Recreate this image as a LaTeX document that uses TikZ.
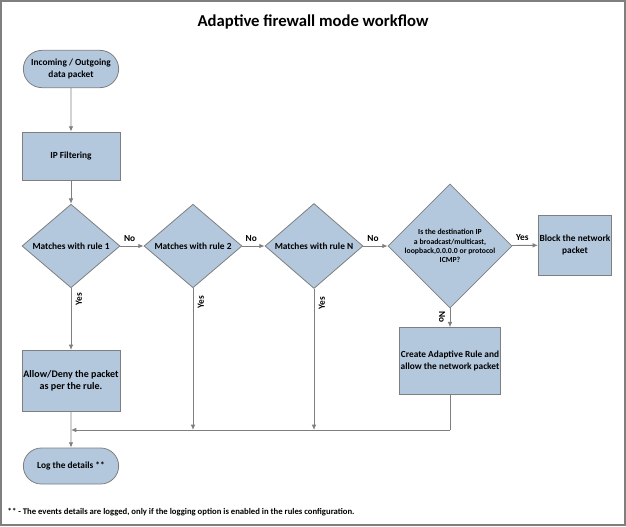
\documentclass[tikz,border=0pt]{standalone}
\usepackage{fontspec}
\setmainfont{Carlito}
\usetikzlibrary{shapes.geometric,shapes.misc,arrows.meta}
\definecolor{fillb}{HTML}{B3C7DD}
\definecolor{edgeg}{HTML}{7F7F7F}
\tikzset{
 base/.style={draw=edgeg,fill=fillb,line width=0.6pt,font=\bfseries\fontsize{7}{8.5}\selectfont,align=center,inner sep=1pt},
 pill/.style={base,rounded rectangle,minimum width=73.5pt,minimum height=28pt},
 conn/.style={draw=edgeg,line width=0.7pt,-{Latex[length=4pt,width=3.5pt]}},
 plain/.style={draw=edgeg,line width=0.7pt},
 lab/.style={font=\bfseries\fontsize{7}{8}\selectfont}
}
\begin{document}
\begin{tikzpicture}[x=0.75pt,y=-0.75pt]
\useasboundingbox (0,0) rectangle (626,526);
\draw[edgeg,line width=1.5pt] (1,1) rectangle (625,525);
\node[font=\bfseries\fontsize{12.5}{14}\selectfont] (title) at (313,22) {Adaptive firewall mode workflow};
\node[pill] (start) at (71,69) {Incoming / Outgoing\\data packet};
\node[base,minimum width=73.5pt,minimum height=36pt] (ipf) at (71,156) {IP Filtering};
\node[base,diamond,minimum width=73.5pt,minimum height=58pt,inner sep=0pt] (d1) at (71,246) {Matches with rule 1};
\node[base,diamond,minimum width=73.5pt,minimum height=58pt,inner sep=0pt] (d2) at (193,246) {Matches with rule 2};
\node[base,diamond,minimum width=73.5pt,minimum height=58pt,inner sep=0pt] (d3) at (314,246) {Matches with rule N};
\node[base,diamond,minimum width=90pt,minimum height=88pt,inner sep=0pt,font=\bfseries\fontsize{5.8}{7}\selectfont] (d4) at (450,246) {Is the destination IP\\a broadcast/multicast,\\loopback,0.0.0.0 or protocol\\ICMP?};
\node[base,minimum width=55pt,minimum height=45pt] (block) at (575,245) {Block the network\\packet};
\node[base,minimum width=75pt,minimum height=50pt] (create) at (450,361) {Create Adaptive Rule and\\allow the network packet};
\node[base,minimum width=73.5pt,minimum height=46pt,font=\bfseries\fontsize{7.5}{9}\selectfont] (allow) at (71,381) {Allow/Deny  the packet\\as per the rule.};
\node[pill,minimum height=27pt] (log) at (71,466) {Log the details **};
\coordinate (m0) at (71,430);
\coordinate (m2) at (193,430);
\coordinate (m3) at (314,430);
\coordinate (m4) at (450,430);
\draw[conn] (start) -- (ipf);
\draw[conn] (ipf) -- (d1);
\draw[conn] (d1) -- node[lab,above,pos=0.4]{No} (d2);
\draw[conn] (d2) -- node[lab,above,pos=0.4]{No} (d3);
\draw[conn] (d3) -- node[lab,above,pos=0.4]{No} (d4);
\draw[conn] (d4) -- node[lab,above,pos=0.4]{Yes} (block);
\draw[conn] (d4) -- node[lab,rotate=-90,anchor=north,pos=0.45]{No} (create);
\draw[conn] (d1) -- node[lab,rotate=90,anchor=north,pos=0.18]{Yes} (allow);
\draw[conn] (d2) -- node[lab,rotate=90,anchor=north,pos=0.1]{Yes} (m2);
\draw[conn] (d3) -- node[lab,rotate=90,anchor=north,pos=0.1]{Yes} (m3);
\draw[plain] (create) -- (m4);
\draw[conn] (m4) -- (m0);
\draw[conn] (allow) -- (log);
\node[font=\bfseries\fontsize{6.5}{8}\selectfont,anchor=west] (foot) at (3,512) {** - The events details are logged, only if the logging option is enabled in the rules configuration.};
\end{tikzpicture}
\end{document}
